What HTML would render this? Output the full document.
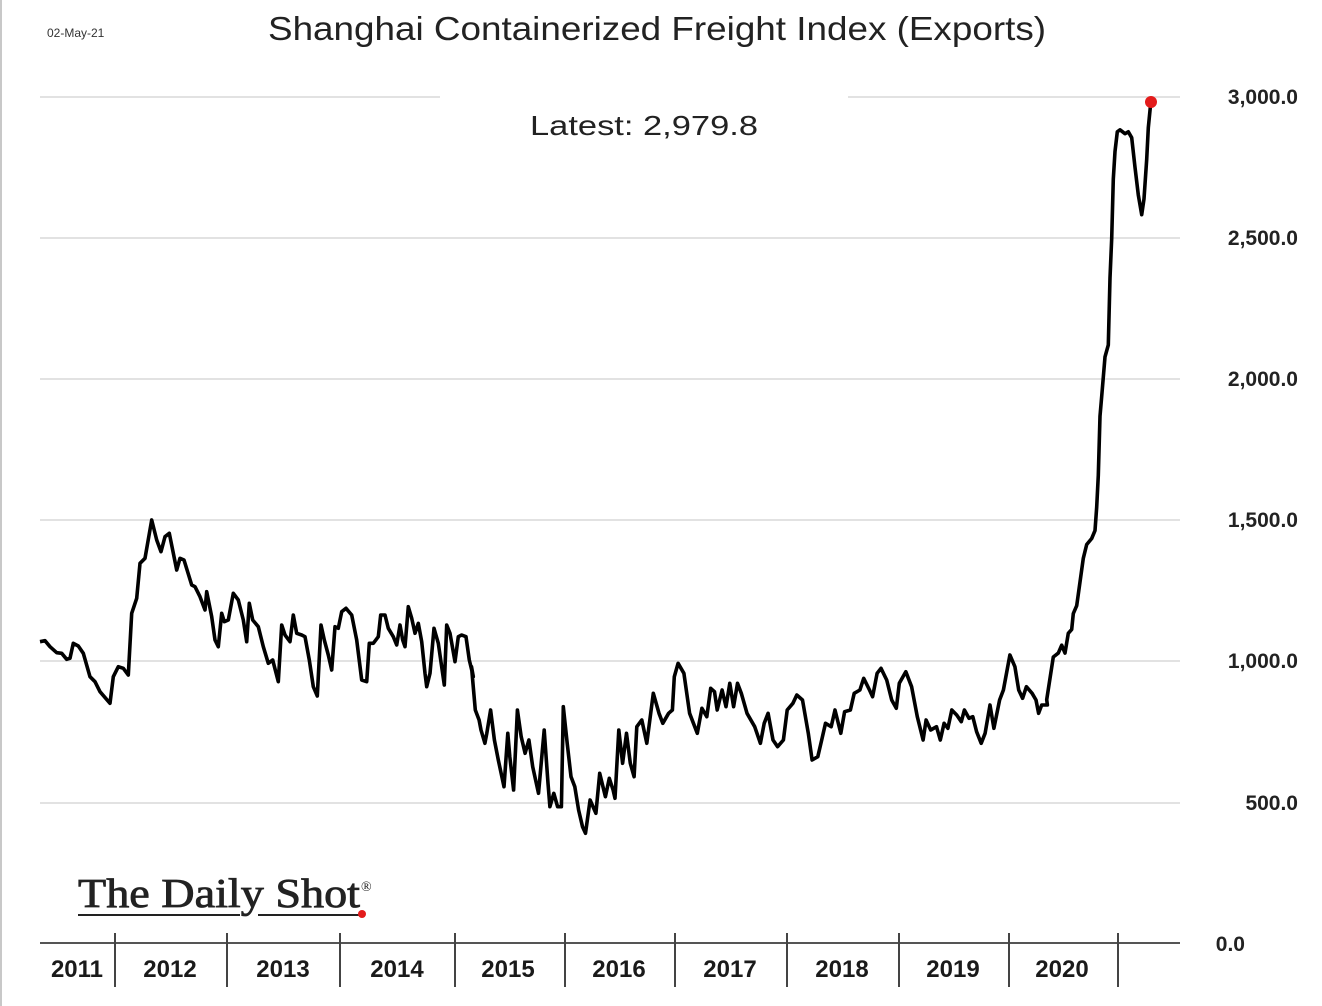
<!DOCTYPE html>
<html><head><meta charset="utf-8"><style>
html,body{margin:0;padding:0;background:#fff;}
svg{display:block;}
</style></head><body>
<svg id="c" width="1322" height="1006" viewBox="0 0 1322 1006" xmlns="http://www.w3.org/2000/svg">
<rect x="0" y="0" width="1322" height="1006" fill="#fff"/>
<rect x="0" y="0" width="2" height="1006" fill="#c8c8c8"/>
<g stroke="#e2e2e2" stroke-width="2">
<line x1="40" y1="97" x2="440" y2="97"/><line x1="848" y1="97" x2="1180" y2="97"/>
<line x1="40" y1="238" x2="1180" y2="238"/>
<line x1="40" y1="379" x2="1180" y2="379"/>
<line x1="40" y1="520" x2="1180" y2="520"/>
<line x1="40" y1="661" x2="1180" y2="661"/>
<line x1="40" y1="803" x2="1180" y2="803"/>
</g>
<line x1="40" y1="943" x2="1180" y2="943" stroke="#555" stroke-width="2"/>
<g stroke="#444" stroke-width="2">
<line x1="115" y1="933" x2="115" y2="987"/><line x1="227" y1="933" x2="227" y2="987"/>
<line x1="340" y1="933" x2="340" y2="987"/><line x1="455" y1="933" x2="455" y2="987"/>
<line x1="565" y1="933" x2="565" y2="987"/><line x1="675" y1="933" x2="675" y2="987"/>
<line x1="787" y1="933" x2="787" y2="987"/><line x1="899" y1="933" x2="899" y2="987"/>
<line x1="1009" y1="933" x2="1009" y2="987"/><line x1="1118" y1="933" x2="1118" y2="987"/>
</g>
<g font-family="Liberation Sans, sans-serif" font-weight="bold" font-size="24" fill="#1a1a1a" text-anchor="middle">
<text x="77" y="977">2011</text><text x="170" y="977">2012</text><text x="283" y="977">2013</text>
<text x="397" y="977">2014</text><text x="508" y="977">2015</text><text x="619" y="977">2016</text>
<text x="730" y="977">2017</text><text x="842" y="977">2018</text><text x="953" y="977">2019</text>
<text x="1062" y="977">2020</text>
</g>
<g font-family="Liberation Sans, sans-serif" font-weight="bold" font-size="21" fill="#222" text-anchor="end">
<text x="1298" y="104">3,000.0</text><text x="1298" y="245">2,500.0</text>
<text x="1298" y="386">2,000.0</text><text x="1298" y="527">1,500.0</text>
<text x="1298" y="668">1,000.0</text><text x="1298" y="810">500.0</text>
<text x="1245" y="951">0.0</text>
</g>
<text x="268" y="40" font-family="Liberation Sans, sans-serif" font-size="33" fill="#222" textLength="778" lengthAdjust="spacingAndGlyphs">Shanghai Containerized Freight Index (Exports)</text>
<text x="47" y="37" font-family="Liberation Sans, sans-serif" font-size="12" fill="#333">02-May-21</text>
<text x="530" y="135" font-family="Liberation Sans, sans-serif" font-size="28" fill="#222" textLength="228" lengthAdjust="spacingAndGlyphs">Latest:  2,979.8</text>
<text x="78" y="907" font-family="Liberation Serif, serif" font-size="41" fill="#222" stroke="#222" stroke-width="0.8" textLength="282" lengthAdjust="spacingAndGlyphs">The Daily Shot</text>
<text x="361" y="891" font-family="Liberation Serif, serif" font-size="14" fill="#222">®</text>
<line x1="78" y1="915" x2="240" y2="915" stroke="#222" stroke-width="2"/>
<line x1="258" y1="915" x2="360" y2="915" stroke="#222" stroke-width="2"/>
<circle cx="362" cy="914" r="4" fill="#e31b1b"/>
<polyline id="ln" fill="none" stroke="#000" stroke-width="3.6" stroke-linejoin="round" points=""/>
<circle cx="1151" cy="102" r="6" fill="#e31b1b"/>
</svg>
<script>
var z1=[30,425,45,422,60,440,80,458,95,460,110,478,120,475,130,430,145,438,160,460,180,530,195,545,210,575,240,610,250,530,265,500,280,505,295,525,305,340,320,295,330,190,345,175,365,60,380,120,393,155,405,110,418,100,440,210,450,175,462,180,485,255,495,260,510,290,525,330,530,275,545,350,555,420,565,440,575,340,583,365,595,360,610,280,625,300,640,360,650,425,658,310,668,360,685,380,700,440,715,490,728,480,745,545,755,375,765,405,780,425,790,345,800,400,815,405,825,410,838,480,850,560,862,588,873,375,883,420,895,465,905,510,915,380,925,385,935,335,948,325,965,345,980,420,995,540,1010,545,1018,430,1030,430,1045,410,1052,345,1065,345,1075,385,1090,410,1100,435,1110,375,1118,420,1125,440,1135,320,1145,355,1155,400,1165,370,1175,425,1185,520,1190,560,1200,520,1212,385,1225,430,1243,555,1250,375,1260,400,1275,485,1285,410,1295,405,1308,410,1318,480,1330,530];
var z2=[30,200,40,330,50,360,55,390,65,430,70,400,80,330,90,420,100,480,115,560,125,400,130,470,140,570,150,330,160,410,170,460,180,420,190,500,205,580,220,390,230,550,235,620,245,580,255,620,265,620,270,320,280,430,290,530,300,560,310,630,320,680,328,700,340,600,355,640,365,520,380,590,390,535,400,570,405,595,415,390,425,490,435,400,445,490,455,530,462,380,475,360,488,430,505,280,520,340,530,370,545,340,555,330,560,230,570,190,585,220,600,340,620,400,632,325,645,350,655,265,665,275,672,330,685,270,695,320,705,250,715,320,725,250,735,280,750,340,770,380,785,430,795,370,805,340,818,420,830,440,845,420,855,330,870,310,880,285,895,300,910,400,920,480,935,470,945,420,955,370,970,380,980,330,995,400,1005,335,1020,330,1030,280,1045,270,1055,235,1070,270,1078,290,1090,220,1100,205,1115,240,1128,300,1140,325,1148,250,1165,215,1180,260,1195,350,1210,420,1218,360,1230,390,1245,380,1255,420,1265,370,1275,385,1285,330,1298,345,1310,365,1318,330,1330,355,1340,350,1350,395,1362,430,1372,400,1385,315,1395,385,1410,300,1420,270,1437,165,1450,200,1460,270,1470,295,1480,260,1495,280,1505,300,1512,340,1520,315,1535,315];
var z3=[140,1568,160,1460,175,1450,185,1430,195,1450,205,1400,215,1390,220,1350,230,1330,240,1270,250,1210,260,1175,275,1160,285,1140,290,1080,295,1000,300,850,305,800,315,700,325,670,330,500,335,400,340,250,345,180,352,130,360,125,375,135,385,130,395,145,405,220,415,290,425,340,432,300,440,200,445,120,452,58];
var p=[],i;
for(i=0;i<z1.length;i+=2)p.push((30+z1[i]/3).toFixed(1)+","+(500+z1[i+1]/3).toFixed(1));
for(i=0;i<z2.length;i+=2)p.push((460+z2[i]*0.3827).toFixed(1)+","+(600+z2[i+1]/3).toFixed(1));
for(i=0;i<z3.length;i+=2)p.push((1000+z3[i]/3).toFixed(1)+","+(97+(z3[i+1]-42)/2.532).toFixed(1));
document.getElementById("ln").setAttribute("points",p.join(" "));
</script>
</body></html>
